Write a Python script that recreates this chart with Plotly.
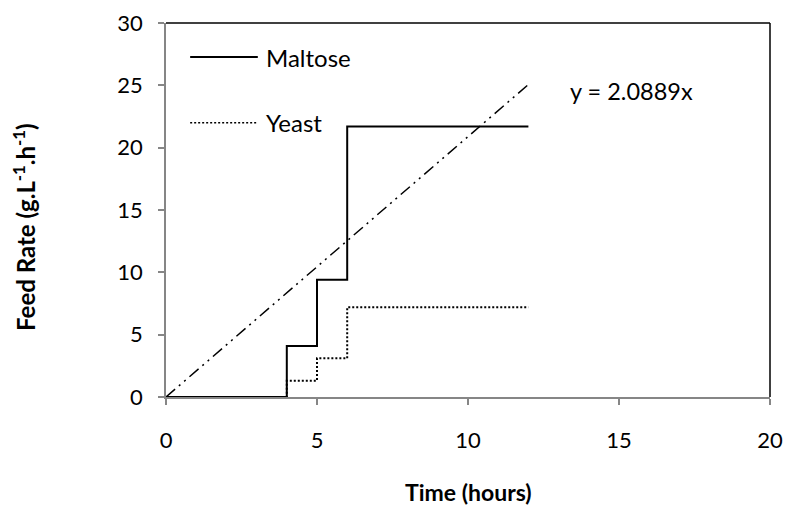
import plotly.graph_objects as go

# Data
time_steps = [0, 4, 5, 6, 12]
maltose = [0, 4.1, 9.4, 21.7, 21.7]
yeast = [0, 1.3, 3.1, 7.2, 7.2]
trend_slope = 2.0889
trend_x = [0, 12]
trend_y = [trend_slope * x for x in trend_x]

x_ticks = [0, 5, 10, 15, 20]
y_ticks = [0, 5, 10, 15, 20, 25, 30]

FONT = "Lato"
AX = "#868686"

fig = go.Figure()
fig.add_trace(go.Scatter(x=trend_x, y=trend_y, mode="lines",
                         line=dict(color="black", width=1.5, dash="12px,5px,2px,5px,2px,5px"),
                         showlegend=False))
fig.add_trace(go.Scatter(x=time_steps, y=yeast, mode="lines", line_shape="hv",
                         line=dict(color="black", width=2, dash="2px,2px"), name="Yeast",
                         showlegend=False))
fig.add_trace(go.Scatter(x=time_steps, y=maltose, mode="lines", line_shape="hv",
                         line=dict(color="black", width=2), name="Maltose",
                         showlegend=False))

shapes = [
    dict(type="line", xref="paper", yref="paper", x0=0, x1=1, y0=1, y1=1,
         line=dict(color="black", width=1.5)),
    dict(type="line", xref="paper", yref="paper", x0=1, x1=1, y0=0, y1=1,
         line=dict(color="black", width=1.5)),
    # legend samples
    dict(type="line", xref="paper", yref="paper", x0=0.04, x1=0.152, y0=0.909, y1=0.909,
         line=dict(color="black", width=2)),
    dict(type="line", xref="paper", yref="paper", x0=0.04, x1=0.152, y0=0.733, y1=0.733,
         line=dict(color="black", width=1.5, dash="2px,2px")),
]

annotations = [
    dict(text="Maltose", xref="paper", yref="paper", x=0.163, y=0.909, xanchor="left",
         yanchor="middle", showarrow=False, font=dict(family=FONT, size=24, color="black")),
    dict(text="Yeast", xref="paper", yref="paper", x=0.163, y=0.733, xanchor="left",
         yanchor="middle", showarrow=False, font=dict(family=FONT, size=24, color="black")),
    dict(text=f"y = {trend_slope}x", xref="paper", yref="paper", x=0.7715, y=0.818,
         xanchor="center", yanchor="middle", showarrow=False,
         font=dict(family=FONT, size=23.5, color="black")),
    dict(text="Time (hours)", xref="paper", yref="paper", x=0.5, y=-0.255,
         xanchor="center", yanchor="middle", showarrow=False,
         font=dict(family=FONT, size=23, color="black", weight="bold")),
    dict(text="Feed Rate (g.L<sup>-1</sup>.h<sup>-1</sup>)", xref="paper", yref="paper",
         x=-0.235, y=0.455, xanchor="center", yanchor="middle", textangle=-90, showarrow=False,
         font=dict(family=FONT, size=24, color="black", weight="bold")),
]

fig.update_layout(
    width=787, height=506,
    margin=dict(l=166, r=17, t=23, b=109),
    paper_bgcolor="white", plot_bgcolor="white",
    font=dict(family=FONT, size=22, color="black"),
    shapes=shapes, annotations=annotations,
    showlegend=False,
)
fig.update_xaxes(range=[0, 20], tickvals=x_ticks, showgrid=False, zeroline=False,
                 showline=True, linecolor=AX, linewidth=1.5, ticks="outside",
                 tickcolor=AX, ticklen=6, tickwidth=1.5, tickfont=dict(size=22),
                 ticklabelstandoff=17, automargin=False)
fig.update_yaxes(range=[0, 30], tickvals=y_ticks, showgrid=False, zeroline=False,
                 showline=True, linecolor=AX, linewidth=1.5, ticks="outside",
                 tickcolor=AX, ticklen=6, tickwidth=1.5, tickfont=dict(size=22),
                 ticklabelstandoff=11, automargin=False)

fig.write_html("out.html", config={"displayModeBar": False},
               post_script="document.body.style.margin='0';")
